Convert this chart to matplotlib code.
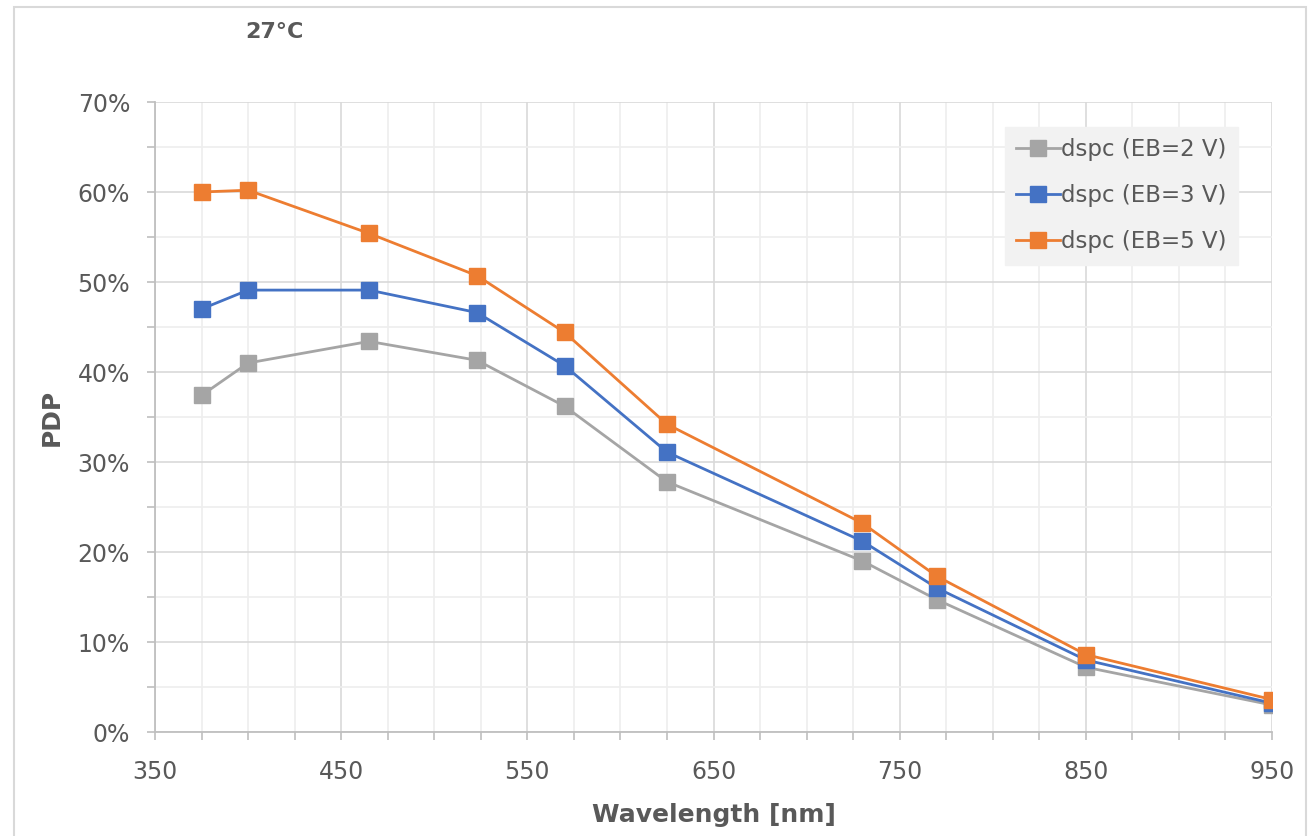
import numpy as np
import matplotlib
matplotlib.use('Agg')
import matplotlib.pyplot as plt
from matplotlib.ticker import FixedLocator, MultipleLocator, PercentFormatter
from matplotlib.patches import Rectangle

plt.rcParams['font.family'] = ['DejaVu Sans']

# data
wavelength = [375, 400, 465, 523, 570, 625, 730, 770, 850, 950]
pdp_eb2 = [37.4, 41.0, 43.4, 41.3, 36.2, 27.8, 19.0, 14.7, 7.2, 3.0]
pdp_eb3 = [47.0, 49.1, 49.1, 46.6, 40.7, 31.1, 21.2, 16.0, 8.0, 3.2]
pdp_eb5 = [60.0, 60.2, 55.4, 50.7, 44.4, 34.2, 23.2, 17.3, 8.6, 3.6]
series_labels = ['dspc (EB=2 V)', 'dspc (EB=3 V)', 'dspc (EB=5 V)']
colors = ['#a5a5a5', '#4472c4', '#ed7d31']
x_ticks = [350, 450, 550, 650, 750, 850, 950]

text_col = '#595959'

fig = plt.figure(figsize=(13.09, 8.36), dpi=100)
ax = fig.add_axes([155/1309, 104/836, 1117/1309, 630/836])

for y, lab, c in zip([pdp_eb2, pdp_eb3, pdp_eb5], series_labels, colors):
    ax.plot(wavelength, y, color=c, lw=2.0, marker='s', markersize=11,
            label=lab, zorder=3)

ax.set_xlim(350, 950)
ax.set_ylim(0, 70)
ax.xaxis.set_major_locator(FixedLocator(x_ticks))
ax.xaxis.set_minor_locator(MultipleLocator(25))
ax.yaxis.set_major_locator(MultipleLocator(10))
ax.yaxis.set_minor_locator(MultipleLocator(5))
ax.yaxis.set_major_formatter(PercentFormatter(decimals=0))

ax.grid(which='major', color='#d9d9d9', lw=1.2, zorder=0)
ax.grid(which='minor', color='#eeeeee', lw=1.2, zorder=0)
ax.set_axisbelow(True)

for s in ['top', 'right']:
    ax.spines[s].set_visible(False)
for s in ['left', 'bottom']:
    ax.spines[s].set_color('#bfbfbf')
    ax.spines[s].set_linewidth(1.3)

ax.tick_params(which='both', length=6, width=1.2, color='#bfbfbf',
               labelsize=17, labelcolor=text_col)
ax.tick_params(axis='x', which='major', pad=14)
ax.tick_params(axis='y', which='major', pad=12)

ax.set_xlabel('Wavelength [nm]', fontsize=18, fontweight='bold',
              color=text_col, labelpad=14)
ax.set_ylabel('PDP', fontsize=18, fontweight='bold', color=text_col,
              labelpad=10)

fig.text(274/1309, 1 - 32/836, '27°C', fontsize=16, fontweight='bold',
         color=text_col, ha='center', va='center')

leg = ax.legend(loc='upper right', bbox_to_anchor=(1238/1309, 1 - 127/836),
                bbox_transform=fig.transFigure, fontsize=16.5, frameon=True,
                fancybox=False, handlelength=1.9, handletextpad=0.05,
                labelspacing=1.0, borderpad=0.5, borderaxespad=0,
                labelcolor=text_col)
leg.get_frame().set_facecolor('#f2f2f2')
leg.get_frame().set_edgecolor('#f2f2f2')
leg.get_frame().set_alpha(1)

# outer chart border
fig.add_artist(Rectangle((14/1309, -0.1), (1306-14)/1309, 1.1 - 7/836,
                         transform=fig.transFigure, fill=False,
                         edgecolor='#d9d9d9', lw=1.5))

fig.savefig('out.png', dpi=100)
